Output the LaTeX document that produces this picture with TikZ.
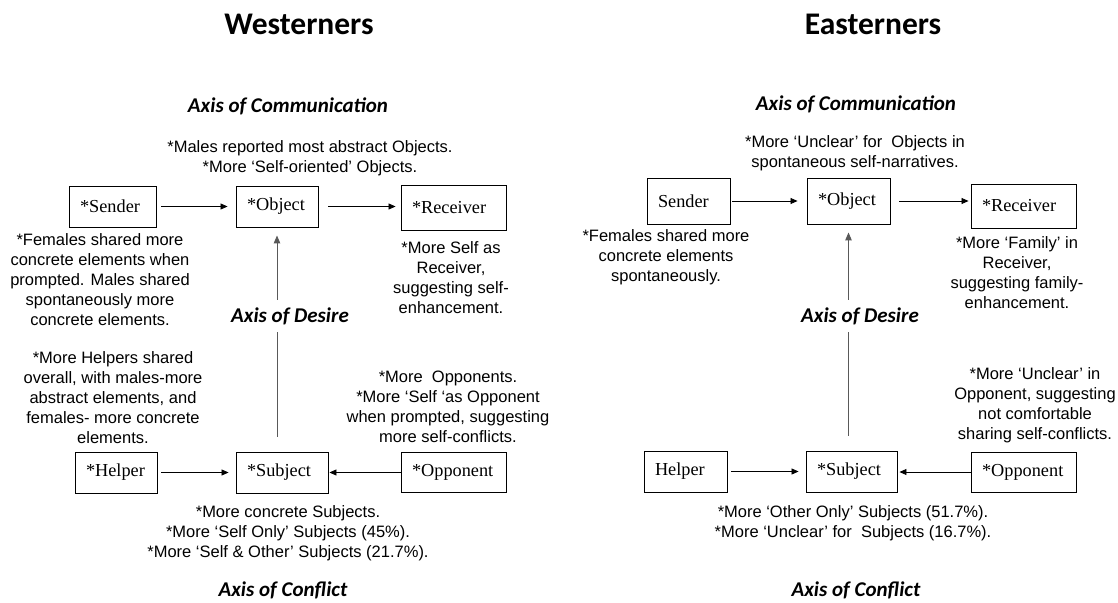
\documentclass[tikz,border=0pt]{standalone}
\usepackage{fontspec}
\setmainfont{Liberation Sans}
\newfontfamily\boxfont{Liberation Serif}
\newfontfamily\califont{Carlito}
\usetikzlibrary{arrows.meta}
\tikzset{
  bx/.style={draw, line width=0.9pt, inner xsep=11pt, inner ysep=0pt, align=left,
    font=\boxfont\fontsize{18.3}{20}\selectfont},
  note/.style={align=center, inner sep=0pt, font=\fontsize{16.5}{20}\selectfont},
  ttl/.style={inner sep=0pt, font=\califont\bfseries\fontsize{31.5}{34}\selectfont},
  axis/.style={inner sep=0pt, font=\califont\bfseries\itshape\fontsize{21}{24}\selectfont},
  axisgap/.style={axis, fill=white, inner ysep=7pt, inner xsep=2pt},
  arr/.style={line width=0.8pt, -{Triangle[length=7pt,width=6pt]}},
  vline/.style={line width=1pt, black!65, -{Triangle[length=8pt,width=6.5pt]}}
}
\begin{document}
\begin{tikzpicture}[x=1pt,y=-1pt]
\useasboundingbox (0,0) rectangle (1118,602);

% ---------------- Westerners ----------------
\node[ttl] (tw) at (299,24) {Westerners};
\node[axis] (lcomm) at (288,106) {Axis of Communication};
\node[note] (lobjn) at (310,158) {*Males reported most abstract Objects.\\*More ‘Self-oriented’ Objects.};

\node[bx, text width=65pt, minimum height=41pt] (lsnd) at (112.5,206.5) {*Sender};
\node[bx, text width=60pt, minimum height=41pt] (lobj) at (277,206.5) {*Object};
\node[bx, text width=83pt, minimum height=45pt] (lrcv) at (453.5,207.5) {*Receiver};

\node[note] (lsndn) at (100,280) {*Females shared more\\concrete elements when\\prompted. Males shared\\spontaneously more\\concrete elements.};
\node[note] (lrcvn) at (451,278) {*More Self as\\Receiver,\\suggesting self-\\enhancement.};

\node[note] (lhlpn) at (113,398) {*More Helpers shared\\overall, with males-more\\abstract elements, and\\females- more concrete\\elements.};
\node[note] (loppn) at (448,406.5) {*More\ \ Opponents.\\*More ‘Self ‘as Opponent\\when prompted, suggesting\\more self-conflicts.};

\node[bx, text width=60pt, minimum height=41pt] (lhlp) at (116,472.5) {*Helper};
\node[bx, text width=70pt, minimum height=41pt] (lsub) at (282,472.5) {*Subject};
\node[bx, text width=83pt, minimum height=40pt] (lopp) at (453.5,472.5) {*Opponent};

\node[note] (lsubn) at (288,533) {*More concrete Subjects.\\*More ‘Self Only’ Subjects (45\%).\\*More ‘Self \& Other’ Subjects (21.7\%).};
\node[axis] (lconf) at (283,590) {Axis of Conflict};

\draw[arr, shorten <=5pt, shorten >=8pt] (lsnd.east) -- (lsnd.east -| lobj.west);
\draw[arr, shorten <=10pt, shorten >=5pt] (lobj.east) -- (lobj.east -| lrcv.west);
\draw[arr, shorten <=4pt, shorten >=7pt] (lhlp.east) -- (lhlp.east -| lsub.west);
\draw[arr, shorten >=1pt] (lopp.west) -- (lopp.west -| lsub.east);
\draw[vline, shorten <=15pt, shorten >=8pt] (lsub.north -| lobj.south) -- (lobj.south);
\node[axisgap] (ldes) at (290,316) {Axis of Desire};

% ---------------- Easterners ----------------
\node[ttl] (te) at (873,24) {Easterners};
\node[axis] (rcomm) at (856,104) {Axis of Communication};
\node[note] (robjn) at (855,153) {*More ‘Unclear’ for\ \ Objects in\\spontaneous self-narratives.};

\node[bx, text width=61pt, minimum height=46pt] (rsnd) at (688.5,201) {Sender};
\node[bx, text width=61pt, minimum height=46pt] (robj) at (848.5,201) {*Object};
\node[bx, text width=83pt, minimum height=44pt] (rrcv) at (1023.5,206) {*Receiver};

\node[note] (rsndn) at (666,257) {*Females shared more\\concrete elements\\spontaneously.};
\node[note] (rrcvn) at (1017,273) {*More ‘Family’ in\\Receiver,\\suggesting family-\\enhancement.};

\node[note] (roppn) at (1035,405) {*More ‘Unclear’ in\\Opponent, suggesting\\not comfortable\\sharing self-conflicts.};

\node[bx, text width=61pt, minimum height=41pt] (rhlp) at (685.5,471.5) {Helper};
\node[bx, text width=69pt, minimum height=41pt] (rsub) at (851.5,471.5) {*Subject};
\node[bx, text width=83pt, minimum height=40pt] (ropp) at (1023.5,472) {*Opponent};

\node[note] (rsubn) at (853,523) {*More ‘Other Only’ Subjects (51.7\%).\\*More ‘Unclear’ for\ \ Subjects (16.7\%).};
\node[axis] (rconf) at (856,590) {Axis of Conflict};

\draw[arr, shorten <=2pt, shorten >=9pt] (rsnd.east) -- (rsnd.east -| robj.west);
\draw[arr, shorten <=9pt, shorten >=2pt] (robj.east) -- (robj.east -| rrcv.west);
\draw[arr, shorten <=4pt, shorten >=7pt] (rhlp.east) -- (rhlp.east -| rsub.west);
\draw[arr, shorten >=2pt] (ropp.west) -- (ropp.west -| rsub.east);
\draw[vline, shorten <=15pt, shorten >=8pt] (rsub.north -| robj.south) -- (robj.south);
\node[axisgap] (rdes) at (860,316) {Axis of Desire};
\end{tikzpicture}
\end{document}
